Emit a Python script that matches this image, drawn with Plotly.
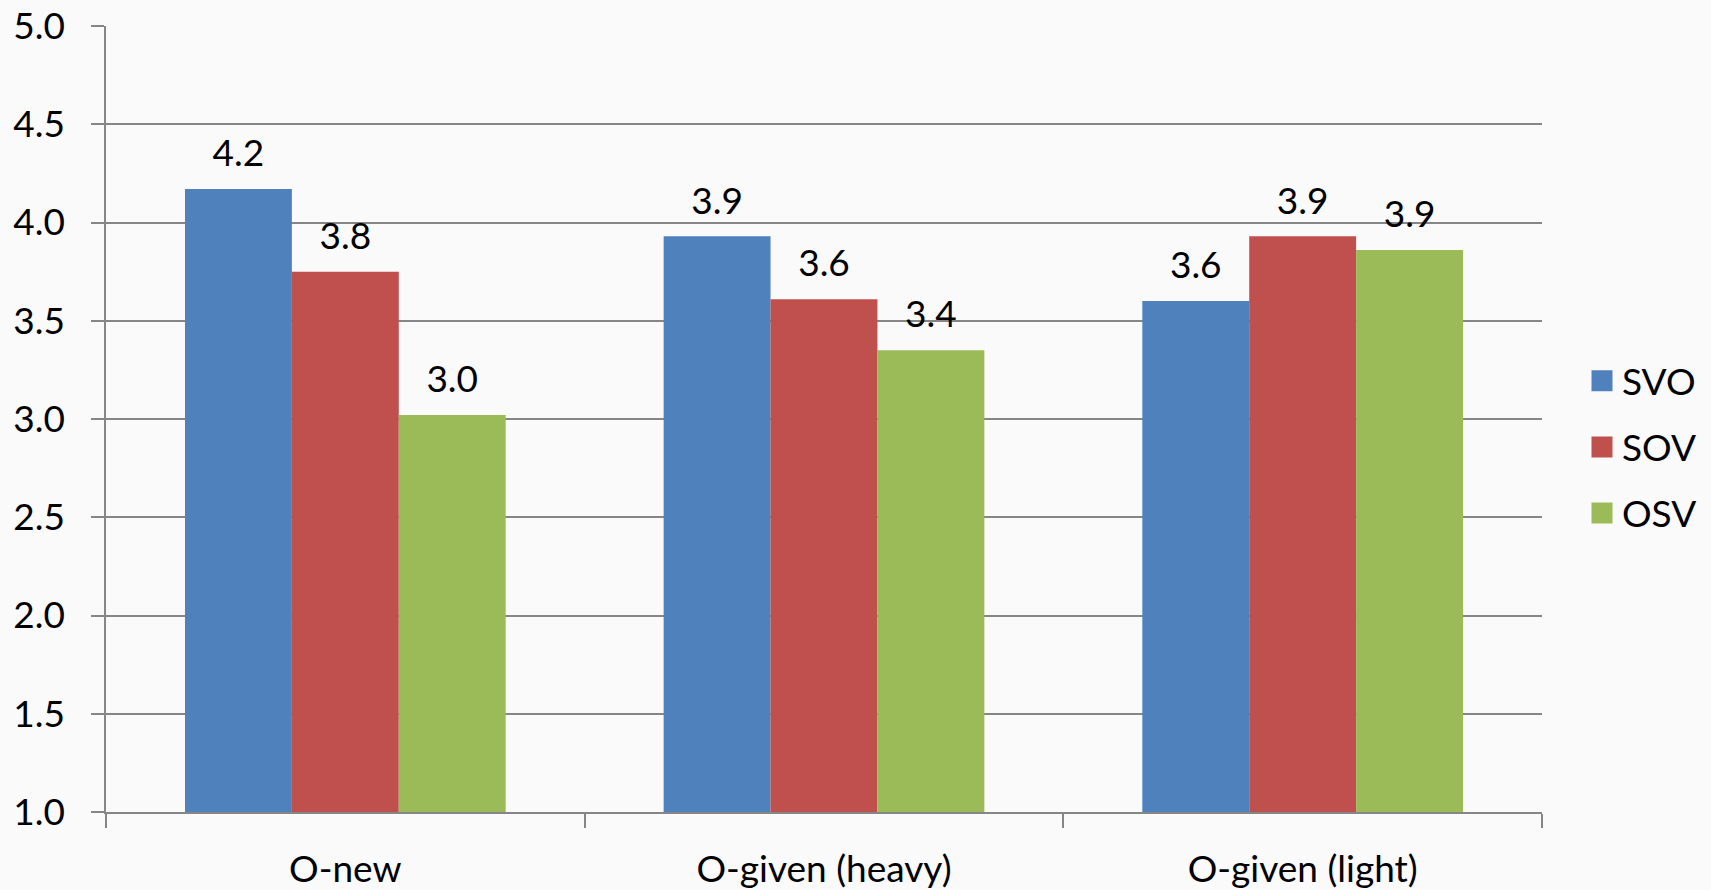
import plotly.graph_objects as go

categories = ["O-new", "O-given (heavy)", "O-given (light)"]
series_names = ["SVO", "SOV", "OSV"]
svo = [4.17, 3.93, 3.60]
sov = [3.75, 3.61, 3.93]
osv = [3.02, 3.35, 3.86]
colors = ["#4F81BD", "#C0504D", "#9BBB59"]
y_ticks = [1.0, 1.5, 2.0, 2.5, 3.0, 3.5, 4.0, 4.5, 5.0]

FONT = "Lato"
FS = 37
AXIS_COL = "#868686"

fig = go.Figure()
for name, vals, col in zip(series_names, [svo, sov, osv], colors):
    fig.add_trace(go.Bar(
        x=categories, y=vals, name=name, marker=dict(color=col, line=dict(width=0)),
        offsetgroup=name, showlegend=False,
    ))
for name, vals in zip(series_names, [svo, sov, osv]):
    fig.add_trace(go.Scatter(
        x=categories, y=vals, mode="markers+text", offsetgroup=name,
        text=[f"{v:.1f}" for v in vals], textposition="top center",
        textfont=dict(family=FONT, size=FS, color="black"),
        marker=dict(size=20, opacity=0), showlegend=False, hoverinfo="skip",
    ))
# legend entries (large square swatches)
for name, col in zip(series_names, colors):
    fig.add_trace(go.Scatter(
        x=[None], y=[None], mode="markers", name=name, legendgroup=name,
        marker=dict(symbol="square", size=16, color=col, line=dict(color=col, width=5)),
        showlegend=True,
    ))

fig.update_layout(
    width=1711, height=890,
    barmode="group", scattermode="group", bargap=0.33, bargroupgap=0,
    paper_bgcolor="#fafafa", plot_bgcolor="#fafafa",
    margin=dict(l=106, r=169, t=26, b=78),
    font=dict(family=FONT, size=FS, color="black"),
    showlegend=True,
    legend=dict(xref="container", x=0.9246, xanchor="left", y=0.464, yanchor="middle",
                font=dict(family=FONT, size=FS), tracegroupgap=15,
                bgcolor="rgba(0,0,0,0)", itemsizing="trace"),
    xaxis=dict(showgrid=False, showline=True, linecolor=AXIS_COL, linewidth=1.5,
               ticks="outside", tickson="boundaries", ticklen=14, tickcolor=AXIS_COL,
               tickwidth=1.5, ticklabelstandoff=24, automargin=False),
    yaxis=dict(range=[1.0, 5.0], tickvals=y_ticks, ticktext=[f"{t:.1f}" for t in y_ticks],
               showgrid=True, gridcolor=AXIS_COL, gridwidth=1.5,
               showline=True, linecolor=AXIS_COL, linewidth=1.5,
               ticks="outside", ticklen=13, tickcolor=AXIS_COL, tickwidth=1.5,
               ticklabelstandoff=19, zeroline=False, automargin=False),
)
fig.write_html("out.html", config={"displayModeBar": False},
               post_script="document.body.style.margin='0';document.body.style.overflow='hidden';")
